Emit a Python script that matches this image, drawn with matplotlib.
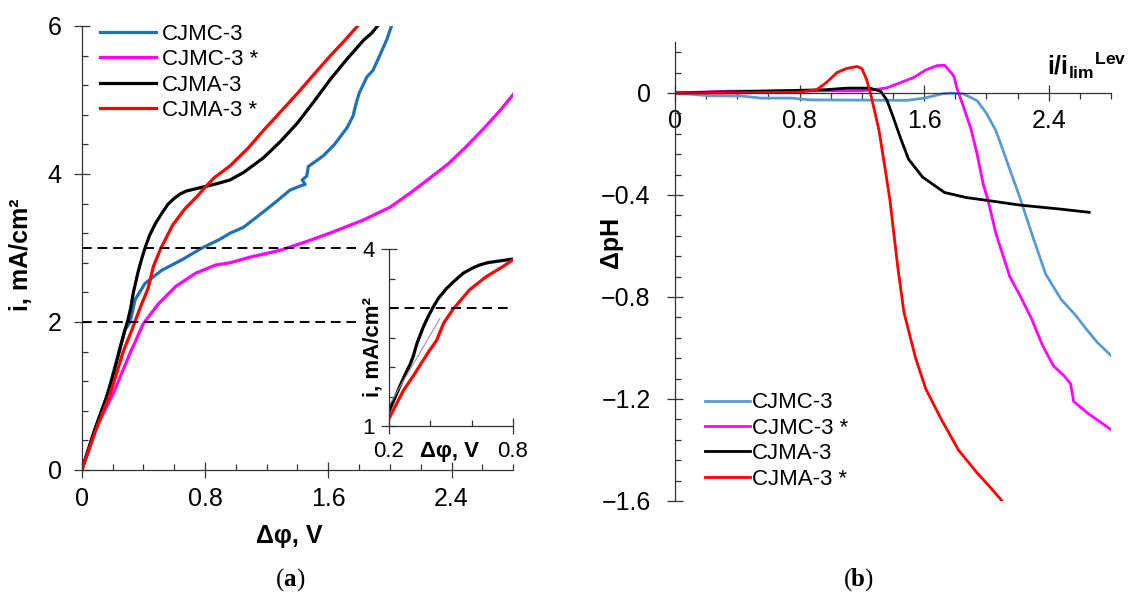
import matplotlib
matplotlib.use('Agg')
import matplotlib.pyplot as plt
from matplotlib.ticker import MultipleLocator, FixedLocator

plt.rcParams['font.family'] = ['Liberation Sans', 'DejaVu Sans']
plt.rcParams['mathtext.fontset'] = 'custom'
plt.rcParams['mathtext.rm'] = 'Liberation Sans'
plt.rcParams['mathtext.bf'] = 'Liberation Sans:bold'

labels = ['CJMC-3', 'CJMC-3 *', 'CJMA-3', 'CJMA-3 *']

# (a) current-voltage curves, i (mA/cm2) vs dphi (V)
a_cjmc_x = [0, 0.087, 0.162, 0.28, 0.314, 0.346, 0.41, 0.52, 0.65, 0.78, 0.89, 0.963, 1.05, 1.18,
            1.27, 1.35, 1.42, 1.45, 1.43, 1.46, 1.47, 1.57, 1.64, 1.72, 1.76, 1.78, 1.80, 1.85,
            1.89, 1.94, 1.98, 2.01]
a_cjmc_y = [0, 0.56, 0.99, 1.89, 2.0, 2.30, 2.52, 2.70, 2.84, 3.0, 3.11, 3.20, 3.28, 3.49,
            3.64, 3.78, 3.84, 3.86, 3.92, 3.97, 4.10, 4.25, 4.40, 4.62, 4.78, 4.95, 5.09, 5.31,
            5.40, 5.63, 5.82, 6.0]
a_cjmcs_x = [0, 0.097, 0.206, 0.314, 0.40, 0.50, 0.61, 0.74, 0.87, 0.963, 1.10, 1.29, 1.45, 1.61,
             1.83, 2.0, 2.13, 2.25, 2.38, 2.50, 2.62, 2.72, 2.81]
a_cjmcs_y = [0, 0.59, 1.04, 1.58, 1.98, 2.25, 2.48, 2.66, 2.77, 2.80, 2.88, 2.97, 3.08, 3.20,
             3.38, 3.55, 3.74, 3.93, 4.14, 4.38, 4.64, 4.87, 5.10]
a_cjma_x = [0, 0.087, 0.162, 0.2, 0.253, 0.28, 0.30, 0.317, 0.335, 0.366, 0.39, 0.414, 0.44, 0.478,
            0.52, 0.559, 0.60, 0.639, 0.68, 0.72, 0.80, 0.88, 0.963, 1.05, 1.18, 1.29, 1.40, 1.50,
            1.61, 1.72, 1.83, 1.88, 1.92]
a_cjma_y = [0, 0.56, 0.99, 1.25, 1.68, 1.89, 2.03, 2.18, 2.40, 2.68, 2.86, 3.02, 3.17, 3.33,
            3.47, 3.59, 3.67, 3.73, 3.77, 3.79, 3.83, 3.87, 3.92, 4.02, 4.22, 4.44, 4.69, 4.96,
            5.27, 5.55, 5.81, 5.90, 6.0]
a_cjmas_x = [0, 0.09, 0.177, 0.2, 0.269, 0.325, 0.35, 0.39, 0.43, 0.465, 0.51, 0.527, 0.59, 0.67,
             0.75, 0.80, 0.86, 0.963, 1.08, 1.18, 1.29, 1.40, 1.50, 1.61, 1.70, 1.79]
a_cjmas_y = [0, 0.53, 0.99, 1.13, 1.60, 1.89, 2.03, 2.25, 2.45, 2.75, 2.98, 3.05, 3.31, 3.53,
             3.70, 3.82, 3.95, 4.11, 4.35, 4.59, 4.84, 5.09, 5.33, 5.59, 5.79, 6.0]
# thin grey tangent in the inset
tangent_x = [0.205, 0.446]
tangent_y = [1.38, 2.82]
ref_levels = [2, 3]

# (b) pH change vs i/ilim
b_cjmc_x = [0, 0.225, 0.43, 0.55, 0.75, 0.87, 1.2, 1.49, 1.60, 1.72, 1.77, 1.85, 1.94, 2.0, 2.06,
            2.08, 2.15, 2.22, 2.29, 2.38, 2.48, 2.57, 2.64, 2.71, 2.80]
b_cjmc_y = [0, -0.011, -0.012, -0.02, -0.02, -0.027, -0.028, -0.029, -0.02, -0.003, 0, -0.003,
            -0.03, -0.08, -0.147, -0.18, -0.30, -0.42, -0.55, -0.71, -0.81, -0.87, -0.925,
            -0.977, -1.03]
b_cjmcs_x = [0, 0.33, 0.66, 1.19, 1.29, 1.36, 1.445, 1.53, 1.61, 1.68, 1.73, 1.745, 1.79, 1.81,
             1.85, 1.90, 1.94, 1.98, 2.01, 2.06, 2.15, 2.22, 2.29, 2.36, 2.43, 2.50, 2.54, 2.56,
             2.66, 2.80]
b_cjmcs_y = [0, 0.007, 0.008, 0.009, 0.014, 0.02, 0.04, 0.06, 0.09, 0.107, 0.109, 0.10, 0.067,
             0.02, -0.05, -0.14, -0.24, -0.36, -0.42, -0.55, -0.72, -0.80, -0.886, -0.99, -1.07,
             -1.11, -1.14, -1.21, -1.26, -1.32]
b_cjma_x = [0, 0.55, 0.97, 1.10, 1.25, 1.32, 1.36, 1.40, 1.45, 1.50, 1.59, 1.73, 1.87, 1.99, 2.22,
            2.47, 2.66]
b_cjma_y = [0, 0.007, 0.013, 0.019, 0.019, 0.007, -0.027, -0.093, -0.18, -0.26, -0.33, -0.39,
            -0.41, -0.42, -0.44, -0.455, -0.468]
b_cjmas_x = [0, 0.3, 0.6, 0.80, 0.91, 0.97, 1.04, 1.10, 1.17, 1.20, 1.23, 1.26, 1.31, 1.35, 1.38,
             1.43, 1.47, 1.545, 1.61, 1.71, 1.82, 1.94, 2.03, 2.10]
b_cjmas_y = [0, 0.0, 0.002, 0.003, 0.013, 0.04, 0.08, 0.096, 0.104, 0.096, 0.053, -0.013, -0.147,
             -0.30, -0.42, -0.68, -0.86, -1.04, -1.16, -1.28, -1.40, -1.49, -1.55, -1.60]

colors_a = ['#1f72b8', '#ff00ff', '#000000', '#ff0000']
colors_b = ['#5b9bd5', '#ff00ff', '#000000', '#ff0000']
spine_c = '#333333'


def style_axes(ax, xminor_dir='in'):
    for s in ['top', 'right']:
        ax.spines[s].set_visible(False)
    for s in ['left', 'bottom']:
        ax.spines[s].set_color(spine_c)
        ax.spines[s].set_linewidth(0.9)
    ax.tick_params(which='major', direction='inout', length=11, width=0.9, color=spine_c,
                   labelsize=18, pad=7)
    ax.tick_params(which='minor', direction='in', length=4, width=0.9, color=spine_c)
    ax.tick_params(axis='x', which='minor', direction=xminor_dir)


fig = plt.figure(figsize=(11.29, 5.94), dpi=100)

# ---- panel (a)
ax1 = fig.add_axes([0.0724, 0.2088, 0.3822, 0.7475])
a_series = [(a_cjmc_x, a_cjmc_y), (a_cjmcs_x, a_cjmcs_y), (a_cjma_x, a_cjma_y), (a_cjmas_x, a_cjmas_y)]
for (x, y), c, lab in zip(a_series, colors_a, labels):
    ax1.plot(x, y, color=c, lw=2.3, label=lab)
for lev in ref_levels:
    ax1.plot([0, 1.78], [lev, lev], color='black', lw=1.4, ls=(0, (5, 3)))
ax1.set_xlim(0, 2.8)
ax1.set_ylim(0, 6)
ax1.xaxis.set_major_locator(FixedLocator([0, 0.8, 1.6, 2.4]))
ax1.xaxis.set_minor_locator(MultipleLocator(0.2))
ax1.yaxis.set_major_locator(MultipleLocator(2))
ax1.yaxis.set_minor_locator(MultipleLocator(0.4))
style_axes(ax1)
ax1.tick_params(axis='y', pad=9)
ax1.set_xticklabels(['0', '0.8', '1.6', '2.4'])
ax1.set_xlabel('Δφ, V', fontsize=18, fontweight='bold')
ax1.xaxis.set_label_coords(0.48, -0.122)
ax1.set_ylabel('i, mA/cm²', fontsize=18, fontweight='bold')
ax1.yaxis.set_label_coords(-0.113, 0.484)
ax1.legend(loc='center left', bbox_to_anchor=(0.0886, 0.878), bbox_transform=fig.transFigure,
           frameon=False, fontsize=16, handlelength=2.5, handletextpad=0.3, labelspacing=0.2,
           borderpad=0, borderaxespad=0)

# inset
axi = fig.add_axes([0.3446, 0.2828, 0.1098, 0.298])
for (x, y), c in zip(a_series[2:], colors_a[2:]):
    axi.plot(x, y, color=c, lw=2.3)
axi.plot(tangent_x, tangent_y, color='#999999', lw=0.8)
axi.plot([0.2, 0.8], [3, 3], color='black', lw=1.4, ls=(0, (5, 3)))
axi.set_xlim(0.2, 0.8)
axi.set_ylim(1, 4)
axi.xaxis.set_major_locator(FixedLocator([0.2, 0.8]))
axi.xaxis.set_minor_locator(FixedLocator([0.4, 0.6]))
axi.yaxis.set_major_locator(FixedLocator([1, 4]))
axi.yaxis.set_minor_locator(MultipleLocator(0.5))
style_axes(axi)
axi.tick_params(which='major', labelsize=16, pad=5)
axi.set_xticklabels(['0.2', '0.8'])
axi.set_yticklabels(['1', '4'])
axi.text(0.49, -0.145, 'Δφ, V', transform=axi.transAxes, ha='center', va='center',
         fontsize=16, fontweight='bold')
axi.text(-0.13, 0.445, 'i, mA/cm²', transform=axi.transAxes, ha='center', va='center',
         rotation=90, fontsize=16, fontweight='bold')

# ---- panel (b)
ax2 = fig.add_axes([0.5979, 0.1566, 0.3862, 0.7727])
b_series = [(b_cjmc_x, b_cjmc_y), (b_cjmcs_x, b_cjmcs_y), (b_cjma_x, b_cjma_y), (b_cjmas_x, b_cjmas_y)]
for (x, y), c, lab in zip(b_series, colors_b, labels):
    ax2.plot(x, y, color=c, lw=2.0, label=lab)
ax2.set_xlim(0, 2.8)
ax2.set_ylim(-1.6, 0.2)
ax2.spines['bottom'].set_position(('data', 0))
ax2.xaxis.set_major_locator(FixedLocator([0, 0.8, 1.6, 2.4]))
ax2.xaxis.set_minor_locator(MultipleLocator(0.2))
ax2.yaxis.set_major_locator(FixedLocator([-1.6, -1.2, -0.8, -0.4, 0]))
ax2.yaxis.set_minor_locator(MultipleLocator(0.08))
style_axes(ax2, xminor_dir='out')
ax2.tick_params(axis='x', pad=6)
ax2.tick_params(axis='y', pad=12)
ax2.set_xticklabels(['0', '0.8', '1.6', '2.4'])
ax2.set_yticklabels(['\u22121.6', '\u22121.2', '\u22120.8', '\u22120.4', '0'])
ax2.set_ylabel('ΔpH', fontsize=18, fontweight='bold')
ax2.yaxis.set_label_coords(-0.119, 0.564)
fig.text(0.998, 0.874, r'$\mathbf{i/i_{lim}{}^{Lev}}$', ha='right', va='baseline', fontsize=18)
ax2.legend(loc='center left', bbox_to_anchor=(0.6245, 0.2576), bbox_transform=fig.transFigure,
           frameon=False, fontsize=16, handlelength=2.0, handletextpad=0.1, labelspacing=0.2,
           borderpad=0, borderaxespad=0)

# panel letters: normal parentheses, bold letter
for xc, letter in [(290 / 1129, 'a'), (858 / 1129, 'b')]:
    yc = 1 - 580 / 594
    fig.text(xc, yc, letter, ha='center', va='center', fontsize=18, fontweight='bold',
             family='Liberation Serif')
    fig.text(xc - 0.0055, yc, '(', ha='right', va='center', fontsize=18, family='Liberation Serif')
    fig.text(xc + 0.0055, yc, ')', ha='left', va='center', fontsize=18, family='Liberation Serif')

fig.savefig('out.png', dpi=100)
